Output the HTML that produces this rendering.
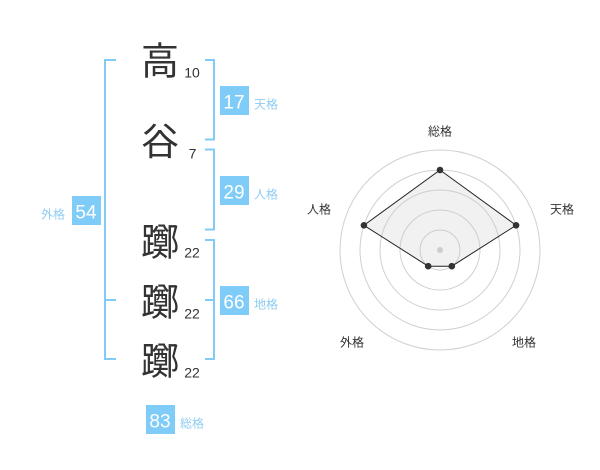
<!DOCTYPE html>
<html><head><meta charset="utf-8"><style>
html,body{margin:0;padding:0;background:#fff;}
svg{display:block;}
</style></head><body>
<svg width="600" height="470" viewBox="0 0 600 470" xmlns="http://www.w3.org/2000/svg" font-family="'Liberation Sans','Noto Sans CJK JP',sans-serif">
<!-- brackets -->
<g stroke="#82cbf6" stroke-width="2" fill="none">
<polyline points="116,60 105,60 105,359 116,359"/>
<line x1="105" y1="300" x2="116" y2="300"/>
<polyline points="205,60 214,60 214,139.5 205,139.5"/>
<polyline points="205,149.5 214,149.5 214,229.5 205,229.5"/>
<polyline points="205,240 214,240 214,359 205,359"/>
<line x1="205" y1="300" x2="214" y2="300"/>
</g>
<!-- kanji -->
<g font-family="'Noto Sans CJK JP',sans-serif" font-size="38" fill="#333" text-anchor="middle">
<text x="160" y="74.5">高</text>
<text x="160" y="155">谷</text>
<text x="160" y="255.5">躑</text>
<text x="160" y="315.5">躑</text>
<text x="160" y="374.5">躑</text>
</g>
<g font-size="14" fill="#333" text-anchor="middle">
<text x="192" y="77.7">10</text>
<text x="192.5" y="158.3">7</text>
<text x="192" y="257.7">22</text>
<text x="192" y="318.3">22</text>
<text x="192" y="377.3">22</text>
</g>
<!-- badges -->
<g fill="#80ccf8">
<rect x="220" y="86" width="29" height="29"/>
<rect x="220" y="176" width="29" height="29"/>
<rect x="72" y="196" width="29" height="29"/>
<rect x="220" y="286" width="29" height="29"/>
<rect x="146" y="405" width="29" height="29"/>
</g>
<g font-size="19" fill="#fff" text-anchor="middle">
<text x="234" y="108.3">17</text>
<text x="234" y="198.3">29</text>
<text x="86" y="218.3">54</text>
<text x="234" y="308.3">66</text>
<text x="160" y="427.3">83</text>
</g>
<g font-size="12" fill="#8fcdf2">
<text x="254" y="108.5">天格</text>
<text x="254" y="198.5">人格</text>
<text x="41" y="218.5">外格</text>
<text x="254" y="308.5">地格</text>
<text x="180" y="427.5">総格</text>
</g>
<!-- radar -->
<g fill="none" stroke="#d0d0d0" stroke-width="1">
<circle cx="440" cy="250" r="20"/>
<circle cx="440" cy="250" r="40"/>
<circle cx="440" cy="250" r="60"/>
<circle cx="440" cy="250" r="80"/>
<circle cx="440" cy="250" r="100"/>
</g>
<polygon points="440,170 516.1,225.3 451.8,266.2 428.2,266.2 363.9,225.3" fill="rgba(200,200,200,0.25)" stroke="#222" stroke-width="1"/>
<circle cx="440" cy="250" r="3" fill="#ccc"/>
<g fill="#333">
<circle cx="440" cy="170" r="3.3"/>
<circle cx="516.1" cy="225.3" r="3.3"/>
<circle cx="451.8" cy="266.2" r="3.3"/>
<circle cx="428.2" cy="266.2" r="3.3"/>
<circle cx="363.9" cy="225.3" r="3.3"/>
</g>
<g font-size="12" fill="#333" text-anchor="middle">
<text x="440" y="135.5">総格</text>
<text x="562" y="213.5">天格</text>
<text x="319" y="213.5">人格</text>
<text x="352" y="346.5">外格</text>
<text x="524" y="346.5">地格</text>
</g>
</svg>
</body></html>
